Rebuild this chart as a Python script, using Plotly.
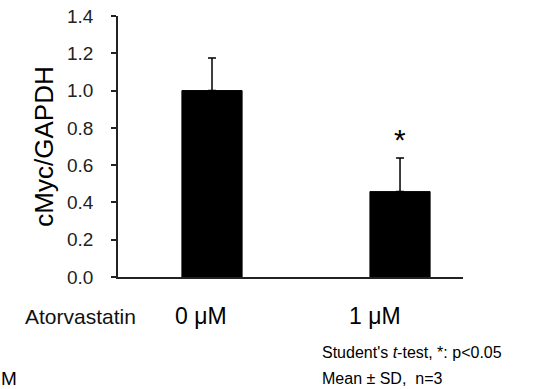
import plotly.graph_objects as go

categories = ["0 μM", "1 μM"]
means = [1.0, 0.458]
sds = [0.175, 0.18]
y_ticks = [0.0, 0.2, 0.4, 0.6, 0.8, 1.0, 1.2, 1.4]
sig_marks = ["", "*"]

FONT = "Arial, Liberation Sans, sans-serif"

W, H = 557, 389
L, R, T, B = 118, 94, 16, 112
pw, ph = W - L - R, H - T - B
def px(x):
    return (x - L) / pw
def py(y):
    return (H - B - y) / ph

fig = go.Figure()
fig.add_trace(go.Bar(
    x=categories, y=means, width=0.32,
    marker=dict(color="black", line=dict(color="black", width=1)),
    error_y=dict(type="data", array=sds, arrayminus=[0, 0], symmetric=False,
                 color="black", thickness=1.5, width=4),
    showlegend=False,
))

for c, m, s, mark in zip(categories, means, sds, sig_marks):
    if mark:
        fig.add_annotation(x=c, y=m + s, xref="x", yref="y", text=mark,
                           showarrow=False, yanchor="bottom", xanchor="center", yshift=0,
                           font=dict(family=FONT, size=30, color="black"))

# category labels (sit slightly left of the bar centres, as in the original)
for c, dx in zip(categories, [-11, -25]):
    fig.add_annotation(x=c, y=py(316), xref="x", yref="paper", text=c,
                       showarrow=False, yanchor="middle", xanchor="center", xshift=dx,
                       font=dict(family=FONT, size=23, color="black"))

fig.add_annotation(x=px(80), y=py(316), xref="paper", yref="paper", text="Atorvastatin",
                   xanchor="center", yanchor="middle",
                   showarrow=False, font=dict(family=FONT, size=21, color="#111"))
fig.add_annotation(x=px(320), y=py(352), xref="paper", yref="paper",
                   xanchor="left", yanchor="middle",
                   text="Student's <i>t</i>-test, *: p<0.05", showarrow=False,
                   font=dict(family=FONT, size=16, color="black"))
fig.add_annotation(x=px(320), y=py(378), xref="paper", yref="paper",
                   xanchor="left", yanchor="middle",
                   text="Mean ± SD,  n=3", showarrow=False,
                   font=dict(family=FONT, size=16, color="black"))
fig.add_annotation(x=px(-1), y=py(378), xref="paper", yref="paper",
                   xanchor="left", yanchor="middle",
                   text="M", showarrow=False,
                   font=dict(family=FONT, size=19, color="black"))

fig.update_layout(
    width=W, height=H,
    margin=dict(l=L, r=R, t=T, b=B),
    paper_bgcolor="white", plot_bgcolor="white",
    font=dict(family=FONT, color="black"),
    xaxis=dict(type="category", range=[-0.5, 1.335], showline=True, automargin=False,
               linecolor="#222", linewidth=1.5, ticks="", showticklabels=False,
               showgrid=False, zeroline=False),
    yaxis=dict(range=[0, 1.4], tickvals=y_ticks, tickformat=".1f", automargin=False,
               showline=True, linecolor="#222", linewidth=1.5,
               ticks="outside", ticklen=5, tickwidth=1.5, tickcolor="#222",
               tickfont=dict(family=FONT, size=19, color="#222"),
               showgrid=False, zeroline=False, ticklabelstandoff=14,
               title=dict(text="cMyc/GAPDH", font=dict(family=FONT, size=26, color="black"),
                          standoff=6)),
)

fig.write_html("out.html", config={"displayModeBar": False},
               post_script="document.body.style.margin='0';")
